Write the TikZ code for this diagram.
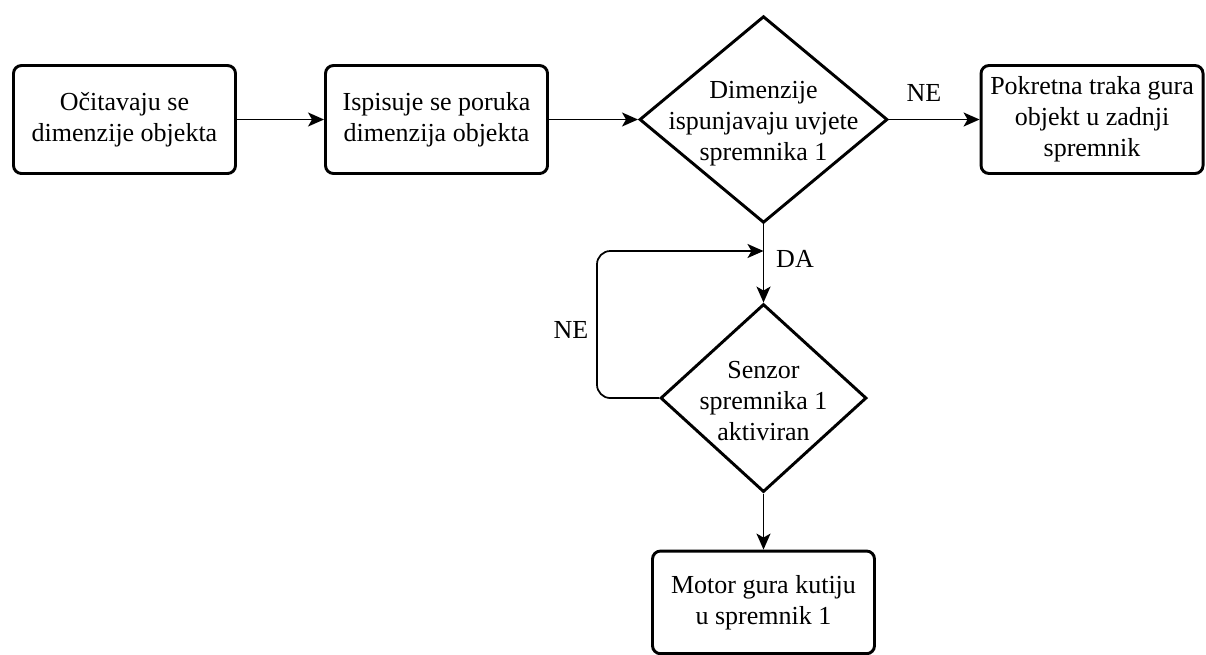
\documentclass[tikz,border=0pt]{standalone}
\usepackage{fontspec}
\setmainfont{LiberationSerif}[Extension=.ttf, UprightFont=*-Regular, BoldFont=*-Bold]
\usetikzlibrary{positioning,shapes.geometric,arrows.meta}

\begin{document}
\begin{tikzpicture}[x=0.75pt, y=-0.75pt, node distance=0pt,
		every node/.style={font=\fontsize{19.5}{23.25}\selectfont},
		box/.style={
			draw,
			line width=2.2pt,
			rounded corners=6pt,
			align=center,
			minimum height=81pt,
			minimum width=166.5pt},
		dec/.style={
			draw,
			diamond,
			line width=2.2pt,
			inner sep=0pt},
		conn/.style={
			line width=1.3pt,
			-{Stealth[length=12pt,width=10.5pt,inset=3pt]}}]

		\useasboundingbox (0,0) rectangle (1206,654);

		\node (read) [box] at (124.5,119.5) {Očitavaju se\\dimenzije objekta};
		\node (print) [box, right of = read, xshift=234pt] {Ispisuje se poruka\\dimenzija objekta};

		\node (check) [dec, minimum width=186pt, minimum height=155pt, right of = print, xshift=245.25pt] {};
		\node (checktxt) [align=center, right of = print, xshift=245.25pt, yshift=-3pt] {Dimenzije\\ispunjavaju uvjete\\spremnika 1};

		\node (last) [box, right of = check, xshift=246.4pt] {Pokretna traka gura\\objekt u zadnji\\spremnik};

		\node (sensor) [dec, minimum width=154.5pt, minimum height=141pt, below of = check, yshift=-208.9pt] {};
		\node (sensortxt) [align=center, below of = check, yshift=-211.5pt] {Senzor\\spremnika 1\\aktiviran};

		\node (motor) [box, minimum height=77pt, below of = sensor, yshift=-152.25pt, yshift=-1pt] {Motor gura kutiju\\u spremnik 1};

		% labels on the branches
		\node (ne1) at (924,93) {NE};
		\node (da) at (795,259) {DA};
		\node (ne2) at (571,330) {NE};

		\coordinate (join) at (763.5,251);
		\coordinate (bend) at (597,251);

		\draw [conn] (read) -- (print);
		\draw [conn] (print) -- (check);
		\draw [conn] (check) -- (last);
		\draw [conn] (check) -- (sensor);
		\draw [conn] (sensor) -- (motor);
		\draw [conn, rounded corners=10pt] (sensor.west) -| (bend) -- (join);
	\end{tikzpicture}
\end{document}
